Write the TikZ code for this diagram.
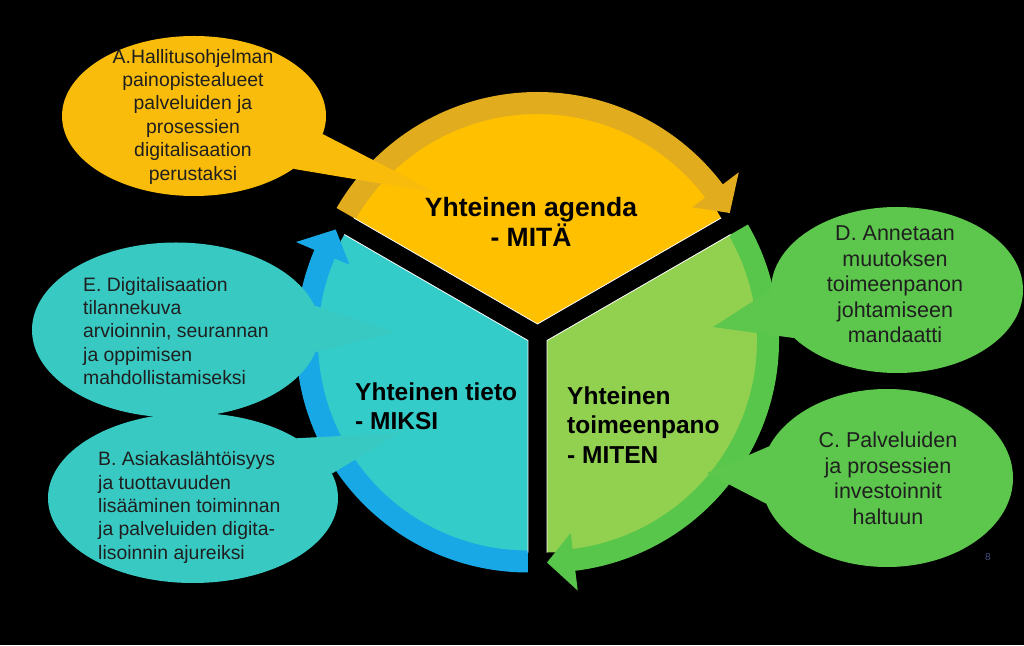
\documentclass[tikz,border=0pt]{standalone}
\usepackage{fontspec}
\setmainfont{Liberation Sans}
\usetikzlibrary{shapes.geometric}

\definecolor{AgendaFill}{HTML}{FFC000}
\definecolor{AgendaBand}{HTML}{E2AC1F}
\definecolor{AgendaBubble}{HTML}{F9BC0B}
\definecolor{TietoFill}{HTML}{33CCC8}
\definecolor{TietoBand}{HTML}{19A8E6}
\definecolor{TietoBubble}{HTML}{38CAC2}
\definecolor{ToimeFill}{HTML}{92D050}
\definecolor{ToimeBand}{HTML}{58C64A}
\definecolor{ToimeBubble}{HTML}{5CC74C}
\definecolor{BubbleText}{HTML}{1F1F1F}
\definecolor{PageNum}{HTML}{4A5080}

\begin{document}
\begin{tikzpicture}
            [x=1pt, y=1pt,
             bubble/.style = {ellipse, inner sep=0pt},
             bubbletext/.style = {inner sep=0pt, text=BubbleText, font=\fontsize{19.4}{23.4}\selectfont},
             bigtext/.style = {inner sep=0pt, text=BubbleText, align=center, font=\fontsize{21.5}{25.5}\selectfont},
             title/.style = {inner sep=0pt, text=black, font=\bfseries\fontsize{24.5}{29.5}\selectfont},
             sectoredge/.style = {white, line width=0.8pt}]
            \useasboundingbox (0,0) rectangle (1024,645);
            \fill[black] (0,0) rectangle (1024,645);

            % agenda sector
            \begin{scope}[shift={(537.5,321)}]
                \fill[AgendaFill] (0,0) -- (30:212) arc[start angle=30, end angle=150, radius=212] -- cycle;
                \fill[AgendaBand] (150:232) arc[start angle=150, end angle=37, radius=232] -- (37:252) -- (30:222) -- (37:194) -- (37:210) arc[start angle=37, end angle=150, radius=210] -- cycle;
                \draw[sectoredge] (30:212) -- (0,0) -- (150:212);
            \end{scope}
            % tieto sector
            \begin{scope}[shift={(527.97,304.5)}]
                \fill[TietoFill] (0,0) -- (150:212) arc[start angle=150, end angle=270, radius=212] -- cycle;
                \fill[TietoBand] (270:232) arc[start angle=270, end angle=157, radius=232] -- (157:252) -- (150:222) -- (157:194) -- (157:210) arc[start angle=157, end angle=270, radius=210] -- cycle;
                \draw[sectoredge] (150:212) -- (0,0) -- (270:212);
            \end{scope}
            % toimeenpano sector
            \begin{scope}[shift={(547.03,304.5)}]
                \fill[ToimeFill] (0,0) -- (-90:212) arc[start angle=-90, end angle=30, radius=212] -- cycle;
                \fill[ToimeBand] (30:232) arc[start angle=30, end angle=-83, radius=232] -- (-83:252) -- (-90:222) -- (-83:194) -- (-83:210) arc[start angle=-83, end angle=30, radius=210] -- cycle;
                \draw[sectoredge] (-90:212) -- (0,0) -- (30:212);
            \end{scope}

            \node[title, align=center, font=\bfseries\fontsize{26.5}{30}\selectfont] (AgendaTitle) at (531,423) {Yhteinen agenda\\- MITÄ};
            \node[title, align=left, anchor=west] (TietoTitle) at (355,239) {Yhteinen tieto\\- MIKSI};
            \node[title, align=left, anchor=west] (ToimeTitle) at (567,220) {Yhteinen\\toimeenpano\\- MITEN};

            % bubbles
            \node[bubble, fill=AgendaBubble, minimum width=264, minimum height=160] (BubbleA) at (194,529) {};
            \coordinate (TipA) at (437,452);
            \fill[AgendaBubble] (BubbleA.-8) -- (TipA) -- (BubbleA.-28) -- cycle;
            \node[bubbletext, align=center] (TextA) at (193,528.5) {A.Hallitusohjelman\\painopistealueet\\palveluiden ja\\prosessien\\digitalisaation\\perustaksi};

            \node[bubble, fill=TietoBubble, minimum width=290, minimum height=170] (BubbleB) at (193,147) {};
            \coordinate (TipB) at (400,212);
            \fill[TietoBubble] (BubbleB.30) -- (TipB) -- (BubbleB.10) -- cycle;
            \node[bubbletext, align=left, anchor=west] (TextB) at (98,137.5) {B. Asiakaslähtöisyys\\ja tuottavuuden\\lisääminen toiminnan\\ja palveluiden digita-\\lisoinnin ajureiksi};

            \node[bubble, fill=TietoBubble, minimum width=288, minimum height=175] (BubbleE) at (176,315) {};
            \coordinate (TipE) at (395,313);
            \fill[TietoBubble] (BubbleE.10) -- (TipE) -- (BubbleE.-9) -- cycle;
            \node[bubbletext, align=left, anchor=west] (TextE) at (83,314) {E. Digitalisaation\\tilannekuva\\arvioinnin, seurannan\\ja oppimisen\\mahdollistamiseksi};

            \node[bubble, fill=ToimeBubble, minimum width=252, minimum height=166] (BubbleD) at (897,355) {};
            \coordinate (TipD) at (713,318);
            \fill[ToimeBubble] (BubbleD.180) -- (TipD) -- (BubbleD.205) -- cycle;
            \node[bigtext] (TextD) at (895,360.5) {D. Annetaan\\muutoksen\\toimeenpanon\\johtamiseen\\mandaatti};

            \node[bubble, fill=ToimeBubble, minimum width=252, minimum height=178] (BubbleC) at (887,167) {};
            \coordinate (TipC) at (707,172);
            \fill[ToimeBubble] (BubbleC.165) -- (TipC) -- (BubbleC.192) -- cycle;
            \node[bigtext] (TextC) at (888,166.5) {C. Palveluiden\\ja prosessien\\investoinnit\\haltuun};

            \node[inner sep=0pt, text=PageNum, font=\fontsize{10}{12}\selectfont] (PageNo) at (988,88) {8};
        \end{tikzpicture}
\end{document}
